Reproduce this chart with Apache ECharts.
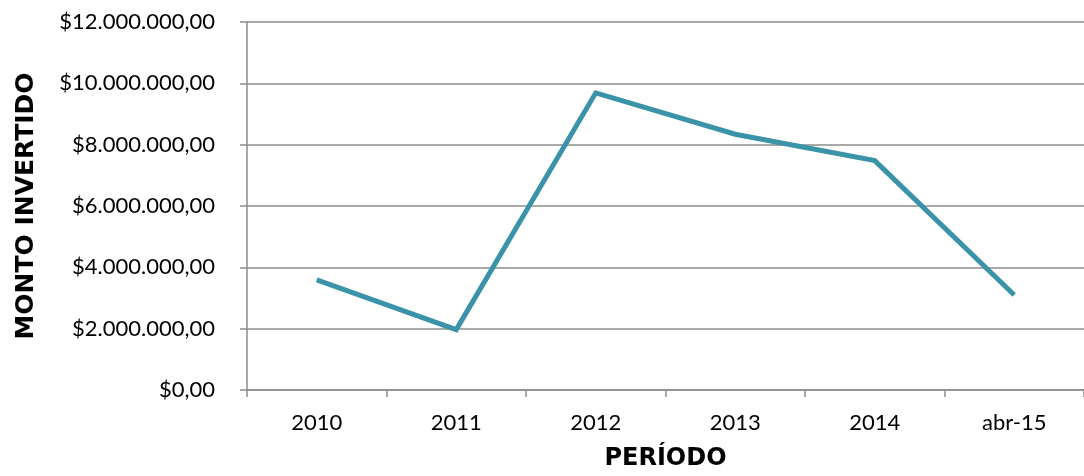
<!DOCTYPE html>
<html><head><meta charset="utf-8">
<script src="https://cdn.jsdelivr.net/npm/echarts@6/dist/echarts.min.js"></script>
<style>html,body{margin:0;padding:0;background:#fff}#c{width:1084px;height:476px}</style>
</head><body><div id="c"></div>
<script>
const categories = ['2010','2011','2012','2013','2014','abr-15'];
const montoInvertido = [3590000, 1970000, 9690000, 8340000, 7480000, 3100000];
const yTicks = [0, 2000000, 4000000, 6000000, 8000000, 10000000, 12000000];

function fmt(v){
  const s = Math.round(v).toString().replace(/\B(?=(\d{3})+(?!\d))/g, '.');
  return '$' + s + ',00';
}
const FONT = 'Lato, "Open Sans", sans-serif';
const TFONT = '"DejaVu Sans", sans-serif';
const chart = echarts.init(document.getElementById('c'), null, {renderer:'canvas'});
chart.setOption({
  animation:false,
  grid:{left:247, right:-6, top:22, bottom:83, containLabel:false},
  xAxis:{
    type:'category', data:categories, boundaryGap:true,
    name:'PERÍODO', nameLocation:'middle', nameGap:57,
    nameTextStyle:{fontFamily:TFONT, fontSize:24, fontWeight:'bold', color:'#000'},
    axisLine:{lineStyle:{color:'#8c8c8c', width:1.5}},
    axisTick:{show:true, length:7, lineStyle:{color:'#8c8c8c', width:1.5}},
    axisLabel:{fontFamily:FONT, fontSize:22, color:'#000', margin:22},
    splitLine:{show:false}
  },
  yAxis:{
    type:'value', min:yTicks[0], max:yTicks[yTicks.length-1], interval:yTicks[1]-yTicks[0],
    name:'MONTO INVERTIDO', nameLocation:'middle', nameGap:208, nameRotate:90,
    nameTextStyle:{fontFamily:TFONT, fontSize:25, fontWeight:'bold', color:'#000'},
    axisLine:{show:true, lineStyle:{color:'#8c8c8c', width:1.5}},
    axisTick:{show:true, length:7, lineStyle:{color:'#8c8c8c', width:1.5}},
    axisLabel:{fontFamily:FONT, fontSize:22, color:'#000', margin:32, formatter:fmt},
    splitLine:{show:true, lineStyle:{color:'#8c8c8c', width:1.5}}
  },
  series:[{
    type:'line', data:montoInvertido, showSymbol:false, symbol:'none',
    lineStyle:{color:'#3A93A8', width:5, join:'miter'},
    itemStyle:{color:'#3A93A8'}
  }]
});
</script></body></html>
